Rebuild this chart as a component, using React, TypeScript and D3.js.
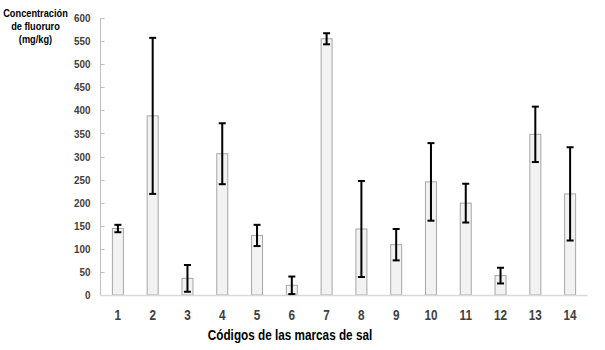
import React from "react";
import * as d3 from "d3";

const categories = ["1", "2", "3", "4", "5", "6", "7", "8", "9", "10", "11", "12", "13", "14"];
const values = [144, 388, 36, 306, 129, 21, 555, 143, 109, 245, 199, 42, 348, 219];
const errors = [8, 169, 29, 66, 23, 19, 12, 104, 34, 84, 42, 17, 60, 101];
const yTicks = [0, 50, 100, 150, 200, 250, 300, 350, 400, 450, 500, 550, 600];
const yTitle = ["Concentración", "de fluoruro", "(mg/kg)"];
const xTitle = "Códigos de las marcas de sal";

const W = 605;
const H = 350;
const left = 100.5;
const right = 587.5;
const top = 18;
const bottom = 295;
const FONT = "'Liberation Sans', Arial, sans-serif";

function NText(props: { x: number; y: number; sx: number; size: number; fill: string; anchor: string; children: React.ReactNode; dy?: string }) {
  return (
    <g transform={`translate(${props.x},${props.y}) scale(${props.sx},1)`}>
      <text x={0} y={0} dy={props.dy} textAnchor={props.anchor as any} fontFamily={FONT} fontWeight="bold" fontSize={props.size} fill={props.fill}>
        {props.children}
      </text>
    </g>
  );
}

export default function App() {
  const x = d3.scaleBand<string>().domain(categories).range([left, right]).padding(0);
  const y = d3.scaleLinear().domain([0, 600]).range([bottom, top]);
  const barW = 11;
  const capW = 7;
  return (
    <svg width={W} height={H} style={{ position: "absolute", left: 0, top: 0, background: "#fff" }}>
      {yTitle.map((t, i) => (
        <NText key={t} x={35.5} y={17 + i * 13} sx={0.84} size={11} fill="#000" anchor="middle">
          {t}
        </NText>
      ))}
      <line x1={left} x2={left} y1={y(600)} y2={y(0)} stroke="#bfbfbf" strokeWidth={1} />
      {yTicks.map((t) => (
        <g key={t}>
          <line x1={left} x2={left + 4} y1={Math.round(y(t)) + 0.5} y2={Math.round(y(t)) + 0.5} stroke="#bfbfbf" />
          <NText x={90.5} y={y(t)} dy="0.36em" sx={0.86} size={11.5} fill="#404040" anchor="end">
            {t}
          </NText>
        </g>
      ))}
      {categories.map((c, i) => {
        const cx = (x(c) as number) + x.bandwidth() / 2;
        return (
          <rect key={c} x={cx - barW / 2} y={y(values[i])} width={barW} height={y(0) - y(values[i])} fill="#f2f2f2" stroke="#a6a6a6" strokeWidth={1} />
        );
      })}
      <line x1={left} x2={right} y1={bottom + 0.5} y2={bottom + 0.5} stroke="#d9d9d9" strokeWidth={1.5} />
      {categories.map((c, i) => {
        const cx = (x(c) as number) + x.bandwidth() / 2;
        const hi = y(values[i] + errors[i]);
        const lo = y(Math.max(0, values[i] - errors[i]));
        return (
          <g key={"e" + c} stroke="#000" strokeWidth={2}>
            <line x1={cx} x2={cx} y1={hi} y2={lo} />
            <line x1={cx - capW / 2} x2={cx + capW / 2} y1={hi} y2={hi} />
            <line x1={cx - capW / 2} x2={cx + capW / 2} y1={lo} y2={lo} />
          </g>
        );
      })}
      {categories.map((c) => (
        <NText key={"t" + c} x={(x(c) as number) + x.bandwidth() / 2} y={319.5} sx={0.84} size={14} fill="#404040" anchor="middle">
          {c}
        </NText>
      ))}
      <NText x={290} y={340} sx={0.84} size={14} fill="#000" anchor="middle">
        {xTitle}
      </NText>
    </svg>
  );
}
